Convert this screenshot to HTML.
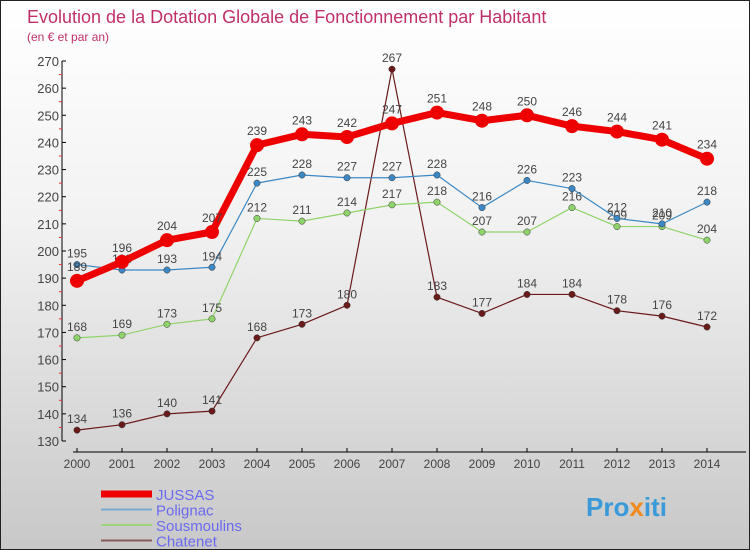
<!DOCTYPE html>
<html><head><meta charset="utf-8"><style>
body{margin:0}
#c{width:750px;height:550px;position:relative;overflow:hidden;box-sizing:border-box;border:1px solid #222;background:linear-gradient(#fff,#f2f2f2 40%,#c8c8c8);font-family:"Liberation Sans",sans-serif}
</style></head><body>
<div id="c">
<svg width="750" height="550" style="position:absolute;left:0;top:0" id="s">
<text x="26" y="22" font-size="18" fill="#c0306a">Evolution de la Dotation Globale de Fonctionnement par Habitant</text>
<text x="26" y="40" font-size="12" fill="#c0306a">(en € et par an)</text>
<text x="585" y="515" font-size="26" font-weight="bold" fill="#3a9ad9">Pro<tspan fill="#f08a1c">x</tspan>iti</text>
</svg>
</div>
<script>
const years=[2000,2001,2002,2003,2004,2005,2006,2007,2008,2009,2010,2011,2012,2013,2014];
const jussas=[189,196,204,207,239,243,242,247,251,248,250,246,244,241,234];
const polignac=[195,193,193,194,225,228,227,227,228,216,226,223,212,210,218];
const sousmoulins=[168,169,173,175,212,211,214,217,218,207,207,216,209,209,204];
const chatenet=[134,136,140,141,168,173,180,267,183,177,184,184,178,176,172];
const yTicks=[130,140,150,160,170,180,190,200,210,220,230,240,250,260,270];
const seriesNames=["JUSSAS","Polignac","Sousmoulins","Chatenet"];
const svg=document.getElementById('s');const NS="http://www.w3.org/2000/svg";
const X=i=>76+i*45;const Y=v=>440-(v-130)*380/140;
function mk(t,a,p){const e=document.createElementNS(NS,t);for(const k in a)e.setAttribute(k,a[k]);(p||svg).appendChild(e);return e;}
const ax=mk('g',{});


mk('line',{x1:61,y1:Y(270),x2:61,y2:440,stroke:'#000'},ax);
mk('line',{x1:72,y1:451,x2:745,y2:451,stroke:'#000'},ax);
yTicks.forEach(v=>{mk('line',{x1:61,x2:65,y1:Y(v),y2:Y(v),stroke:'#000'},ax);
if(v<270)mk('line',{x1:58,x2:61,y1:Y(v+5),y2:Y(v+5),stroke:'#e33'},ax);
const t=mk('text',{x:58,y:Y(v)+5,'text-anchor':'end','font-size':13,fill:'#444'},ax);t.textContent=v;

});
years.forEach((y,i)=>{mk('line',{x1:X(i),x2:X(i),y1:447,y2:451,stroke:'#000'},ax);
const t=mk('text',{x:X(i),y:467,'text-anchor':'middle','font-size':12,fill:'#444'},ax);t.textContent=y;

});
const styles=[{d:chatenet,c:'#6b1a1a',w:1.2,r:3.2},{d:sousmoulins,c:'#8fd46a',w:1.2,r:3.2},{d:polignac,c:'#3b88c4',w:1.2,r:3.2},{d:jussas,c:'#e00',w:7,r:7}];
const names=["chatenet","sousmoulins","polignac","jussas"];
styles.forEach((s,k)=>{const g=mk('g',{});


mk('polyline',{points:s.d.map((v,i)=>X(i)+','+Y(v)).join(' '),fill:'none',stroke:s.c,'stroke-width':s.w,'stroke-linejoin':'round'},g);
s.d.forEach((v,i)=>{const p=mk('circle',{cx:X(i),cy:Y(v),r:s.r,fill:s.c,stroke:k==3?'none':'#333','stroke-width':0.5},g);


const t=mk('text',{x:X(i),y:Y(v)-(k==3?10:7),'text-anchor':'middle','font-size':12,fill:'#444'},g);t.textContent=v;});});
const leg=[{c:'#e00',w:7},{c:'#7aaad0',w:2},{c:'#9fd47a',w:2},{c:'#8a5a5a',w:2}];
leg.forEach((l,i)=>{const g=mk('g',{});


const y=493+i*15.5;mk('line',{x1:100,x2:151,y1:y,y2:y,stroke:l.c,'stroke-width':l.w},g);
const t=mk('text',{x:155,y:y+6,'font-size':15,fill:'#6a6af0'},g);t.textContent=seriesNames[i];});
</script>
</body></html>
